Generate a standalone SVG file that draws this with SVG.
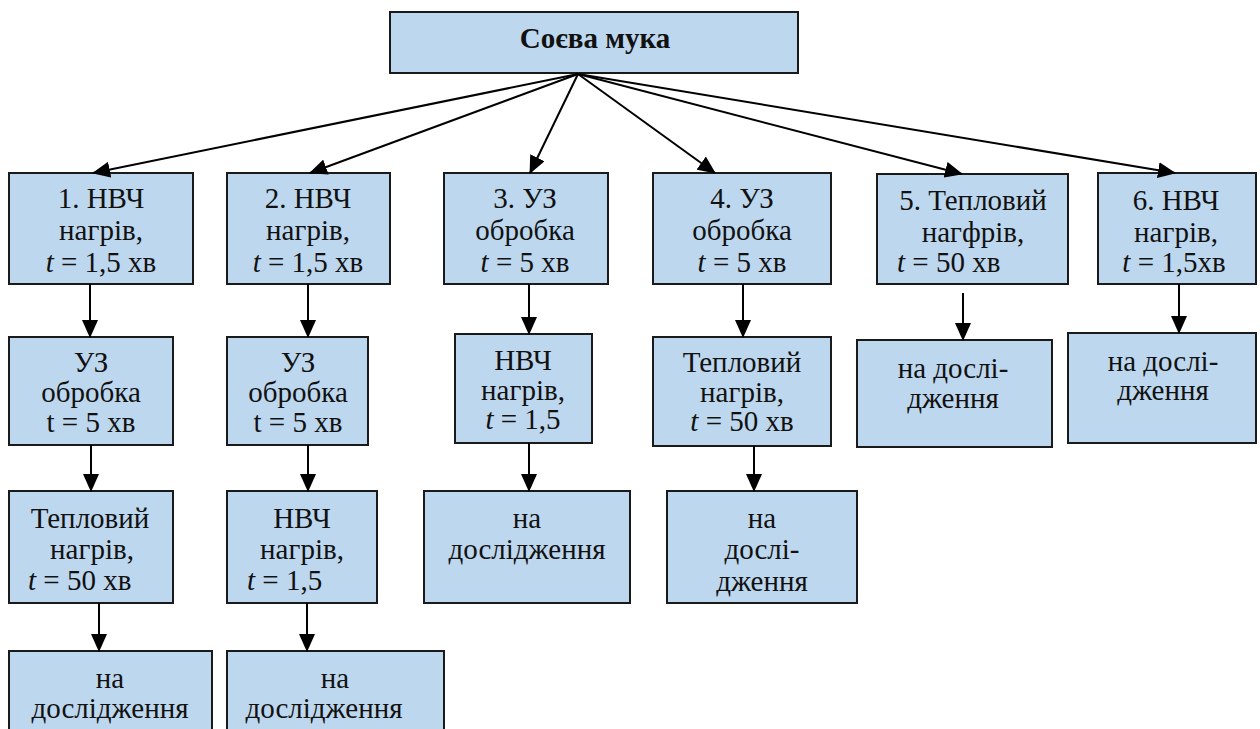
<svg xmlns="http://www.w3.org/2000/svg" width="1260" height="729" viewBox="0 0 1260 729">
<defs>
<marker id="ah" markerUnits="userSpaceOnUse" markerWidth="18" markerHeight="16" viewBox="0 0 18 16" refX="17" refY="8" orient="auto">
<path d="M0,0 L18,8 L0,16 z" fill="#000"/>
</marker>
<style>
.box{fill:#BDD7EE;stroke:#1a1a1a;stroke-width:2}
text{font-family:'Liberation Serif','Tinos','Times New Roman','DejaVu Serif',serif;font-size:29px;fill:#111}
.t{text-anchor:middle}
.ts{text-anchor:start}
.title{font-weight:bold;text-anchor:middle}
.c{stroke:#000;stroke-width:2;fill:none;marker-end:url(#ah)}
</style>
</defs>
<rect width="1260" height="729" fill="#fff"/>

<g id="root">
<rect class="box" x="390" y="12" width="408" height="61"/>
<text class="title" x="595" y="48">Соєва мука</text>
</g>

<g id="nodes">
<g id="n1">
<rect class="box" x="9" y="173" width="184" height="111"/>
<text class="t" x="101" y="208">1. НВЧ</text>
<text class="t" x="101" y="240">нагрів,</text>
<text class="t" x="101" y="272"><tspan font-style="italic">t</tspan> = 1,5 хв</text>
</g>
<g id="n2">
<rect class="box" x="227" y="173" width="163" height="111"/>
<text class="t" x="308" y="208">2. НВЧ</text>
<text class="t" x="308" y="240">нагрів,</text>
<text class="t" x="308" y="272"><tspan font-style="italic">t</tspan> = 1,5 хв</text>
</g>
<g id="n3">
<rect class="box" x="444" y="173" width="164" height="111"/>
<text class="t" x="525" y="208">3. УЗ</text>
<text class="t" x="525" y="240">обробка</text>
<text class="t" x="525" y="272"><tspan font-style="italic">t</tspan> = 5 хв</text>
</g>
<g id="n4">
<rect class="box" x="653" y="173" width="178" height="111"/>
<text class="t" x="742" y="208">4. УЗ</text>
<text class="t" x="742" y="240">обробка</text>
<text class="t" x="742" y="272"><tspan font-style="italic">t</tspan> = 5 хв</text>
</g>
<g id="n5">
<rect class="box" x="877" y="174" width="191" height="110"/>
<text class="t" x="973" y="210">5. Тепловий</text>
<text class="t" x="973" y="242">нагфрів,</text>
<text class="ts" x="897" y="272"><tspan font-style="italic">t</tspan> = 50 хв</text>
</g>
<g id="n6">
<rect class="box" x="1098" y="173" width="158" height="111"/>
<text class="t" x="1176" y="210">6. НВЧ</text>
<text class="t" x="1176" y="242">нагрів,</text>
<text class="t" x="1174" y="272"><tspan font-style="italic">t</tspan> = 1,5хв</text>
</g>

<g id="n1b">
<rect class="box" x="9" y="337" width="164" height="108"/>
<text class="t" x="91" y="372">УЗ</text>
<text class="t" x="91" y="402">обробка</text>
<text class="t" x="91" y="432">t = 5 хв</text>
</g>
<g id="n2b">
<rect class="box" x="227" y="337" width="141" height="108"/>
<text class="t" x="298" y="372">УЗ</text>
<text class="t" x="298" y="402">обробка</text>
<text class="t" x="298" y="432">t = 5 хв</text>
</g>
<g id="n3b">
<rect class="box" x="455" y="334" width="137" height="109"/>
<text class="t" x="523" y="370">НВЧ</text>
<text class="t" x="523" y="400">нагрів,</text>
<text class="t" x="523" y="429"><tspan font-style="italic">t</tspan> = 1,5</text>
</g>
<g id="n4b">
<rect class="box" x="653" y="337" width="178" height="109"/>
<text class="t" x="742" y="372">Тепловий</text>
<text class="t" x="742" y="402">нагрів,</text>
<text class="t" x="742" y="431"><tspan font-style="italic">t</tspan> = 50 хв</text>
</g>
<g id="n5b">
<rect class="box" x="857" y="340" width="195" height="107"/>
<text class="t" x="953" y="378">на дослі-</text>
<text class="t" x="953" y="408">дження</text>
</g>
<g id="n6b">
<rect class="box" x="1068" y="333" width="188" height="110"/>
<text class="t" x="1163" y="371">на дослі-</text>
<text class="t" x="1163" y="400">дження</text>
</g>

<g id="n1c">
<rect class="box" x="9" y="491" width="164" height="112"/>
<text class="t" x="90" y="528">Тепловий</text>
<text class="t" x="92" y="559">нагрів,</text>
<text class="ts" x="28" y="590"><tspan font-style="italic">t</tspan> = 50 хв</text>
</g>
<g id="n2c">
<rect class="box" x="227" y="491" width="150" height="112"/>
<text class="t" x="302" y="528">НВЧ</text>
<text class="t" x="302" y="559">нагрів,</text>
<text class="ts" x="247" y="590"><tspan font-style="italic">t</tspan> = 1,5</text>
</g>
<g id="n3c">
<rect class="box" x="424" y="491" width="206" height="112"/>
<text class="t" x="527" y="528">на</text>
<text class="t" x="527" y="559">дослідження</text>
</g>
<g id="n4c">
<rect class="box" x="667" y="491" width="190" height="112"/>
<text class="t" x="762" y="528">на</text>
<text class="t" x="762" y="559">дослі-</text>
<text class="t" x="762" y="591">дження</text>
</g>

<g id="n1d">
<rect class="box" x="9" y="651" width="203" height="90"/>
<text class="t" x="110" y="688">на</text>
<text class="t" x="110" y="718">дослідження</text>
</g>
<g id="n2d">
<rect class="box" x="227" y="651" width="217" height="90"/>
<text class="t" x="335" y="688">на</text>
<text class="t" x="324" y="718">дослідження</text>
</g>
</g>

<g id="connectors">
<line class="c" x1="578" y1="74" x2="93" y2="173"/>
<line class="c" x1="578" y1="74" x2="310" y2="173"/>
<line class="c" x1="578" y1="74" x2="530" y2="173"/>
<line class="c" x1="578" y1="74" x2="715" y2="173"/>
<line class="c" x1="578" y1="74" x2="962" y2="174"/>
<line class="c" x1="578" y1="74" x2="1175" y2="173"/>

<line class="c" x1="90" y1="284" x2="90" y2="337"/>
<line class="c" x1="308" y1="284" x2="308" y2="337"/>
<line class="c" x1="529" y1="284" x2="529" y2="334"/>
<line class="c" x1="743" y1="284" x2="743" y2="337"/>
<line class="c" x1="963" y1="293" x2="963" y2="340"/>
<line class="c" x1="1179" y1="284" x2="1179" y2="333"/>

<line class="c" x1="91" y1="445" x2="91" y2="491"/>
<line class="c" x1="308" y1="445" x2="308" y2="491"/>
<line class="c" x1="529" y1="443" x2="529" y2="491"/>
<line class="c" x1="754" y1="446" x2="754" y2="491"/>

<line class="c" x1="99" y1="603" x2="99" y2="651"/>
<line class="c" x1="307" y1="603" x2="307" y2="651"/>
</g>
</svg>
